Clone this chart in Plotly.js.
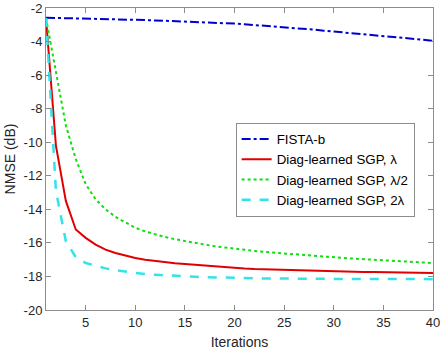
<!DOCTYPE html>
<html>
<head>
<meta charset="utf-8">
<script src="https://cdn.plot.ly/plotly-3.0.1.min.js"></script>
<style>html,body{margin:0;padding:0;background:#fff;}#chart{width:441px;height:350px;}</style>
</head>
<body>
<div id="chart"></div>
<script>
const iterations = [1,2,3,4,5,6,7,8,9,10,11,12,13,14,15,16,17,18,19,20,21,22,23,24,25,26,27,28,29,30,31,32,33,34,35,36,37,38,39,40];
const fistaB = [-2.58,-2.59,-2.60,-2.61,-2.62,-2.64,-2.65,-2.67,-2.69,-2.71,-2.72,-2.74,-2.76,-2.78,-2.80,-2.83,-2.85,-2.88,-2.90,-2.93,-2.97,-3.01,-3.05,-3.09,-3.14,-3.19,-3.24,-3.29,-3.35,-3.40,-3.45,-3.50,-3.55,-3.60,-3.65,-3.71,-3.77,-3.83,-3.89,-3.95];
const sgpLambda = [-2.6,-10.2,-13.5,-15.2,-15.7,-16.1,-16.4,-16.6,-16.75,-16.9,-17.0,-17.08,-17.15,-17.21,-17.26,-17.31,-17.36,-17.41,-17.45,-17.49,-17.52,-17.55,-17.57,-17.59,-17.61,-17.63,-17.65,-17.67,-17.69,-17.70,-17.71,-17.72,-17.73,-17.74,-17.75,-17.76,-17.77,-17.78,-17.79,-17.80];
const sgpHalf = [-2.6,-5.8,-9.0,-11.0,-12.5,-13.4,-14.0,-14.45,-14.8,-15.1,-15.32,-15.5,-15.65,-15.78,-15.9,-16.0,-16.1,-16.2,-16.28,-16.36,-16.42,-16.48,-16.54,-16.59,-16.64,-16.69,-16.74,-16.78,-16.82,-16.86,-16.9,-16.94,-16.97,-17.0,-17.04,-17.07,-17.1,-17.13,-17.16,-17.2];
const sgpDouble = [-2.6,-12.9,-15.9,-16.85,-17.2,-17.38,-17.52,-17.63,-17.72,-17.8,-17.86,-17.9,-17.94,-17.97,-18.0,-18.02,-18.04,-18.06,-18.08,-18.09,-18.1,-18.11,-18.12,-18.12,-18.13,-18.13,-18.14,-18.14,-18.14,-18.15,-18.15,-18.15,-18.15,-18.15,-18.16,-18.16,-18.16,-18.16,-18.16,-18.16];
const seriesNames = ['FISTA-b','Diag-learned SGP, λ','Diag-learned SGP, λ/2','Diag-learned SGP, 2λ'];
const xTicks = [5,10,15,20,25,30,35,40];
const yTicks = [-20,-18,-16,-14,-12,-10,-8,-6,-4,-2];

const traces = [
  {x: iterations, y: fistaB, name: seriesNames[0], mode: 'lines', line: {color: '#0000cc', width: 2, dash: 'dashdot'}},
  {x: iterations, y: sgpLambda, name: seriesNames[1], mode: 'lines', line: {color: '#e00000', width: 2, dash: 'solid'}},
  {x: iterations, y: sgpHalf, name: seriesNames[2], mode: 'lines', line: {color: '#11dd11', width: 2, dash: 'dot'}},
  {x: iterations, y: sgpDouble, name: seriesNames[3], mode: 'lines', line: {color: '#33e3ea', width: 2.5, dash: 'dash'}}
];

const axisCommon = {
  showgrid: false, zeroline: false, showline: true, linecolor: '#8c8c8c', linewidth: 1,
  mirror: 'ticks', ticks: 'inside', ticklen: 5, tickcolor: '#8c8c8c', tickwidth: 1,
  ticklabeloverflow: 'allow',
  tickfont: {family: 'Liberation Sans, Arial, sans-serif', size: 13, color: '#262626'}
};

const layout = {
  width: 441, height: 350,
  margin: {l: 46, r: 8, t: 8, b: 40},
  paper_bgcolor: '#fff', plot_bgcolor: '#fff',
  font: {family: 'Liberation Sans, Arial, sans-serif', color: '#262626'},
  showlegend: true,
  legend: {
    x: 0.49, y: 0.62, xanchor: 'left', yanchor: 'top',
    bgcolor: '#fff', bordercolor: '#8c8c8c', borderwidth: 1,
    font: {family: 'Liberation Sans, Arial, sans-serif', size: 13.3, color: '#000'},
    tracegroupgap: 0
  },
  xaxis: Object.assign({}, axisCommon, {
    range: [1, 40], tickvals: xTicks, ticktext: xTicks.map(String),
    title: {text: 'Iterations', font: {size: 14, color: '#262626'}, standoff: 10}
  }),
  yaxis: Object.assign({}, axisCommon, {
    range: [-20, -2], tickvals: yTicks, ticktext: yTicks.map(String),
    title: {text: 'NMSE (dB)', font: {size: 14, color: '#262626'}, standoff: 4}
  })
};

Plotly.newPlot('chart', traces, layout, {displayModeBar: false, staticPlot: true});
</script>
</body>
</html>
